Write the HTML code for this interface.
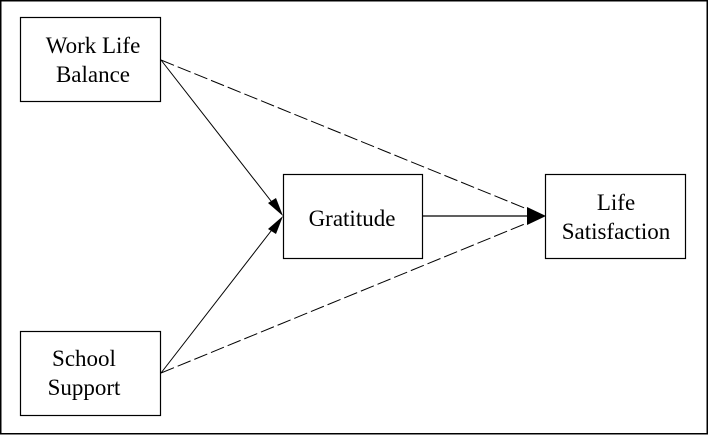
<!DOCTYPE html>
<html><head><style>
html,body{margin:0;padding:0;background:#fff;}
svg{display:block;}
</style></head><body>
<svg width="709" height="435" viewBox="0 0 709 435" xmlns="http://www.w3.org/2000/svg">
<rect x="0.75" y="0.75" width="706.5" height="433" fill="#fff" stroke="#000" stroke-width="1.5"/>
<g fill="none" stroke="#000" stroke-width="1.2">
<rect x="20.5" y="17.5" width="140" height="84"/>
<rect x="283.5" y="174.5" width="139" height="84"/>
<rect x="545.5" y="174.5" width="140" height="84"/>
<rect x="20.5" y="331.5" width="140" height="84"/>
</g>
<g stroke="#000" stroke-width="1">
<line x1="161" y1="60" x2="278" y2="210"/>
<line x1="161" y1="373" x2="278" y2="222"/>
<line x1="422" y1="216" x2="532" y2="216" stroke-width="1.3"/>
<line x1="161" y1="60" x2="532" y2="211" stroke-dasharray="14,4"/>
<line x1="161" y1="373" x2="532" y2="221" stroke-dasharray="14,4"/>
</g>
<g fill="#000">
<polygon points="283,216 268,203 276,198"/>
<polygon points="283,216 276,234 268,229"/>
<polygon points="546,216 527,207 527,225"/>
</g>
<g font-family="'Liberation Serif','Times New Roman',Times,'DejaVu Serif',serif" font-size="23" fill="#000" text-anchor="middle">
<text x="93" y="53">Work Life</text>
<text x="93" y="82">Balance</text>
<text x="352" y="226">Gratitude</text>
<text x="616" y="210">Life</text>
<text x="616" y="239">Satisfaction</text>
<text x="84" y="366">School</text>
<text x="84" y="395">Support</text>
</g>
</svg>
</body></html>
